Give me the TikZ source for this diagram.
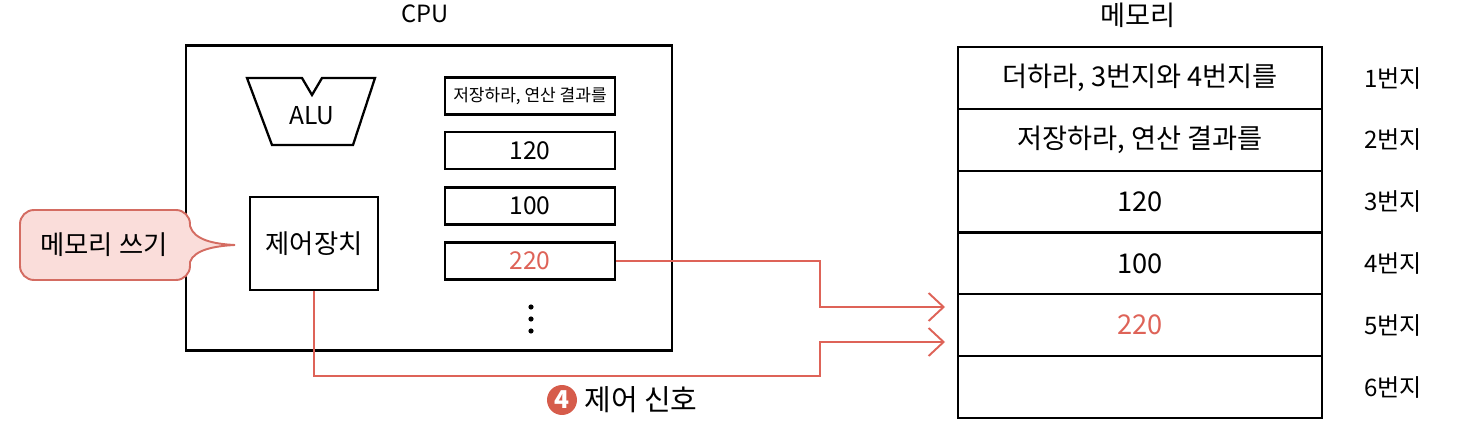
\documentclass[tikz,border=0pt]{standalone}
\usepackage{fontspec}
\setmainfont{Noto Sans CJK KR}
\usetikzlibrary{arrows.meta}
\definecolor{sigred}{RGB}{222,99,88}
\definecolor{numred}{RGB}{214,92,75}
\definecolor{calloutfill}{RGB}{250,221,218}
\definecolor{calloutdraw}{RGB}{212,108,98}
\begin{document}
\begin{tikzpicture}[x=0.02cm,y=-0.02cm,
    lbl/.style={font=\fontsize{15}{17}\selectfont},
    addr/.style={font=\fontsize{13.7}{16}\selectfont},
    reg/.style={draw,line width=1.3pt,minimum width=3.4cm,minimum height=0.74cm,inner sep=0pt,font=\fontsize{14}{16}\selectfont},
    cell/.style={draw,line width=1.2pt,minimum width=7.28cm,minimum height=1.236cm,inner sep=0pt,font=\fontsize{15.5}{17}\selectfont},
    sig/.style={draw=sigred,line width=1.1pt,-{Straight Barb[length=0.3cm,width=0.56cm,line width=1.1pt]}}]
  \useasboundingbox (0,0) rectangle (1472,442);
  \node[font=\fontsize{13.5}{15}\selectfont] (cpulbl) at (425,14) {CPU};
  \node[draw,line width=1.4pt,minimum width=9.72cm,minimum height=6.1cm] (cpu) at (429,198) {};
  \draw[line width=1.3pt] (247,78) -- (302,78) -- (312,95) -- (322,78) -- (375,78) -- (353,145) -- (272,145) -- cycle;
  \node[font=\fontsize{14}{16}\selectfont] (alu) at (312,116) {ALU};
  \node[reg,font=\fontsize{9.7}{11}\selectfont] (r1) at (530,96) {저장하라, 연산 결과를};
  \node[reg] (r2) at (530,150.5) {120};
  \node[reg] (r3) at (530,206) {100};
  \node[reg,text=sigred] (r4) at (530,261) {220};
  \foreach \y in {307,319,331}
    \fill (531,\y) circle (2.6);
  \node[reg,minimum width=2.56cm,minimum height=1.86cm,font=\fontsize{15}{17}\selectfont] (cu) at (314,243.5) {제어장치};
  \draw[draw=calloutdraw,fill=calloutfill,line width=1.1pt]
    (190,226) [rounded corners=8pt] -- (190,210) -- (20,210) -- (20,280) -- (190,280) [sharp corners] -- (190,262)
    .. controls (194,250) and (214,246) .. (235,245)
    .. controls (214,244) and (194,240) .. (190,226) -- cycle;
  \node[lbl] (write) at (104,245) {메모리 쓰기};
  \node[font=\fontsize{15.5}{17}\selectfont] (memlbl) at (1138,15) {메모리};
  \node[cell] (m1) at (1140,78) {더하라, 3번지와 4번지를};
  \node[cell] (m2) at (1140,139.8) {저장하라, 연산 결과를};
  \node[cell] (m3) at (1140,201.6) {120};
  \node[cell] (m4) at (1140,263.4) {100};
  \node[cell,text=sigred] (m5) at (1140,325.2) {220};
  \node[cell] (m6) at (1140,387) {};
  \foreach \i in {1,...,6}
    \node[addr] (a\i) at (1393,78+61.8*\i-61.8) {\i 번지};
  \coordinate (in1) at (945,307);
  \coordinate (in2) at (945,342);
  \draw[sig] (r4.east) -- (820,261) |- (in1);
  \draw[sig] (cu.south) |- (820,376) |- (in2);
  \node[circle,fill=numred,text=white,minimum size=0.6cm,inner sep=0pt,font=\fontsize{14}{16}\selectfont\bfseries] (n4) at (562,400) {4};
  \node[font=\fontsize{16.5}{18}\selectfont] (sigtxt) at (641,400) {제어 신호};
\end{tikzpicture}
\end{document}
